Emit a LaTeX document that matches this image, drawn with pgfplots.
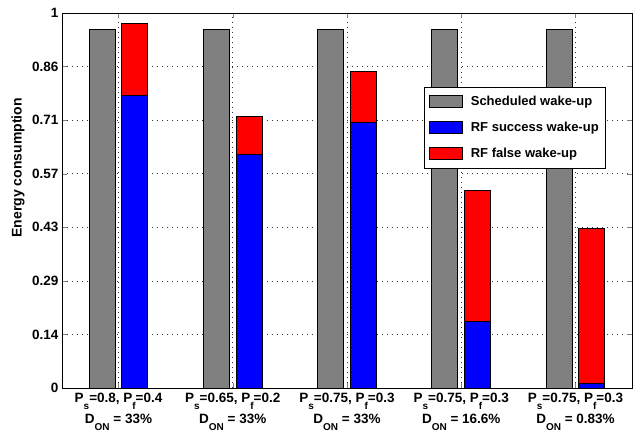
\documentclass[border=0pt]{standalone}
\usepackage{pgfplots}
\pgfplotsset{compat=1.18}
\usepackage{fontspec}
\setmainfont{Liberation Sans}
\newcommand{\sub}[1]{\raisebox{-6.5pt}{\fontsize{10}{10}\selectfont #1}}
\begin{document}%
\begin{tikzpicture}[font=\fontsize{13}{21}\selectfont\bfseries]
\begin{axis}[
  name=ax,
  scale only axis,
  width=570pt, height=375pt,
  xmin=0.505, xmax=5.495,
  ymin=0, ymax=1,
  ybar,
  bar width=26pt,
  xtick={1,2,3,4,5},
  xticklabels={
    {P\sub{s}=0.8, P\sub{f}=0.4\\D\sub{ON} = 33\%},
    {P\sub{s}=0.65, P\sub{f}=0.2\\D\sub{ON} = 33\%},
    {P\sub{s}=0.75, P\sub{f}=0.3\\D\sub{ON} = 33\%},
    {P\sub{s}=0.75, P\sub{f}=0.3\\D\sub{ON} = 16.6\%},
    {P\sub{s}=0.75, P\sub{f}=0.3\\D\sub{ON} = 0.83\%}},
  xticklabel style={align=center, font=\fontsize{13.5}{21}\selectfont\bfseries, inner sep=0pt, yshift=-5pt},
  ytick={0,0.142857,0.285714,0.428571,0.571429,0.714286,0.857143,1},
  yticklabels={0,0.14,0.29,0.43,0.57,0.71,0.86,1},
  yticklabel style={font=\fontsize{13.5}{14}\selectfont\bfseries},
  /pgf/number format/assume math mode=true,
  ylabel={Energy consumption},
  ylabel style={font=\fontsize{14}{15}\selectfont\bfseries, at={(axis description cs:-0.077,0.587)}, anchor=center, rotate=0},
  tick align=inside,
  major tick length=5pt,
  xmajorgrids, ymajorgrids,
  grid style={dash pattern=on 1pt off 4pt, black!80, line width=0.6pt},
  axis line style={black, line width=0.8pt},
  legend style={at={(0.635,0.803)}, anchor=north west, draw=black, line width=0.6pt,
    font=\fontsize{13}{14}\selectfont\bfseries, inner xsep=5pt, inner ysep=7pt, row sep=11pt,
    /tikz/every odd column/.append style={column sep=6pt}},
  legend cell align=left,
  legend image code/.code={\draw[#1, line width=0.6pt] (0pt,-6pt) rectangle (33pt,6pt);},
]
\addlegendimage{fill=gray, draw=black}
\addlegendentry{Scheduled wake-up}
\addlegendimage{fill=blue, draw=black}
\addlegendentry{RF success wake-up}
\addlegendimage{fill=red, draw=black}
\addlegendentry{RF false wake-up}
% Scheduled wake-up
\addplot[forget plot, bar shift=-16.3pt, fill=gray, draw=black, line width=0.9pt]
  coordinates {(1,0.955) (2,0.955) (3,0.955) (4,0.955) (5,0.955)};
% Total (success + false)
\addplot[forget plot, bar shift=16.3pt, fill=red, draw=black, line width=0.9pt]
  coordinates {(1,0.971) (2,0.723) (3,0.845) (4,0.527) (5,0.426)};
% RF success part
\addplot[forget plot, bar shift=16.3pt, fill=blue, draw=black, line width=0.9pt]
  coordinates {(1,0.780) (2,0.623) (3,0.707) (4,0.177) (5,0.011)};
\end{axis}
\path[use as bounding box] ([shift={(-62pt,-46pt)}]ax.south west) rectangle ([shift={(4pt,13pt)}]ax.north east);
\end{tikzpicture}%
\end{document}
